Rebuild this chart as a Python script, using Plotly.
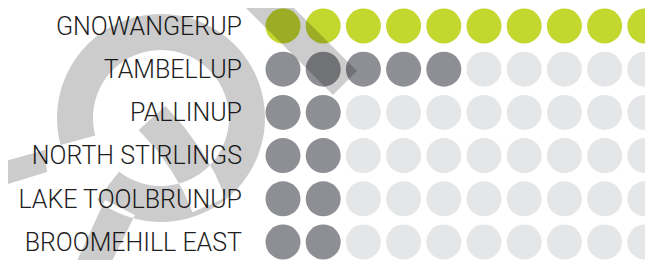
import math
import plotly.graph_objects as go

# ---- data ----
categories = ["GNOWANGERUP", "TAMBELLUP", "PALLINUP", "NORTH STIRLINGS",
              "LAKE TOOLBRUNUP", "BROOMEHILL EAST"]
filled = [10, 5, 2, 2, 2, 2]          # dots highlighted per row
dots_per_row = 10
row_colors = ["#C3D72F", "#8E8F94", "#8E8F94", "#8E8F94", "#8E8F94", "#8E8F94"]
empty_color = "#E5E6E8"

W, H = 653, 260
OFF = 8            # page body margin offset
ML = 242           # left margin (figure px)
PW = W - ML

fig = go.Figure()
for r, (cat, n, col) in enumerate(zip(categories, filled, row_colors)):
    xs = list(range(1, dots_per_row + 1))
    cols = [col if i <= n else empty_color for i in xs]
    fig.add_trace(go.Scatter(
        x=xs, y=[cat] * dots_per_row, mode="markers",
        marker=dict(size=35, color=cols, line=dict(width=0)),
        hoverinfo="skip", showlegend=False))

# ---- watermark (decorative), given in screen px -> paper coords ----
def P(sx, sy):
    return f"{(sx - OFF - ML) / PW:.5f},{1 - (sy - OFF) / H:.5f}"

def ring(cx, cy, R, r, a1, a2, n=80):
    pts = []
    for k in range(n + 1):
        t = math.radians(a1 + (a2 - a1) * k / n)
        pts.append((cx + R * math.cos(t), cy - R * math.sin(t)))
    for k in range(n, -1, -1):
        t = math.radians(a1 + (a2 - a1) * k / n)
        pts.append((cx + r * math.cos(t), cy - r * math.sin(t)))
    return "M " + " L ".join(P(*p) for p in pts) + " Z"

def poly(pts):
    return "M " + " L ".join(P(*p) for p in pts) + " Z"

def stroke(center, w):
    left, right = [], []
    n = len(center)
    for i in range(n):
        a = center[max(i - 1, 0)]
        b = center[min(i + 1, n - 1)]
        dx, dy = b[0] - a[0], b[1] - a[1]
        L = math.hypot(dx, dy)
        nx, ny = -dy / L, dx / L
        left.append((center[i][0] + nx * w / 2, center[i][1] + ny * w / 2))
        right.append((center[i][0] - nx * w / 2, center[i][1] - ny * w / 2))
    return poly(left + right[::-1])

path = ring(161, 118, 104, 68, -128, 195)
path += " " + poly([(227, -59), (357, 71), (333, 95), (203, -35)])
path += " " + poly([(-5, 164), (-5, 188), (47, 172), (45, 150)])
path += " " + poly([(75, 265), (110, 265), (135, 215), (105, 200)])
path += " " + stroke([(152, 118), (170, 138), (186, 160), (199, 182), (209, 205)], 36)

fig.add_shape(type="path", path=path, xref="paper", yref="paper",
              fillcolor="rgba(0,0,0,0.2)", line=dict(width=0), layer="above")

x0 = 1 - 33 / 40.2
y0 = -18 / 43.2
fig.update_layout(
    width=W, height=H,
    margin=dict(l=ML, r=0, t=0, b=0, autoexpand=False),
    paper_bgcolor="white", plot_bgcolor="white",
    xaxis=dict(range=[x0, x0 + PW / 40.2], visible=False, fixedrange=True,
               automargin=False),
    yaxis=dict(type="category", categoryorder="array", categoryarray=categories,
               range=[y0 + H / 43.2, y0], showgrid=False, zeroline=False,
               showline=False, ticks="", ticklabelstandoff=7, automargin=False,
               tickfont=dict(family="Roboto, sans-serif", weight=300,
                             size=25, color="#1e1e1e")),
)

fig.write_html("out.html")
